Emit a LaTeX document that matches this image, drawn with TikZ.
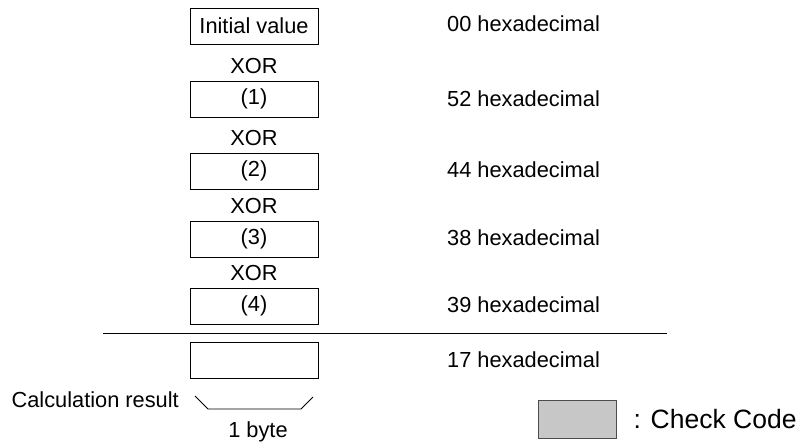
\documentclass[tikz,border=0pt]{standalone}
\usepackage{fontspec}
\setmainfont{Liberation Sans}
\usetikzlibrary{positioning}
\tikzset{
  regbox/.style={draw, line width=0.9pt, minimum width=128pt, minimum height=36pt, inner sep=0pt},
  xorlab/.style={inner sep=0pt, font=\fontsize{21.8}{24}\selectfont},
  hexlab/.style={anchor=west, inner sep=0pt, font=\fontsize{21.8}{24}\selectfont},
}
\begin{document}
\begin{tikzpicture}[x=1pt,y=-1pt,font=\fontsize{21.8}{24}\selectfont]
\useasboundingbox (0,0) rectangle (803,445);
% register values
\node[regbox] (init) at (254,26)  {Initial value};
\node[regbox] (b1)   at (254,99)  {(1)};
\node[regbox] (b2)   at (254,171) {(2)};
\node[regbox] (b3)   at (254,239) {(3)};
\node[regbox] (b4)   at (254,306) {(4)};
\node[regbox] (res)  at (254,360) {};
% operators
\foreach \b in {b1,b2,b3,b4}
  \node[xorlab, above=7pt of \b] (xor-\b) {XOR};
% values
\node[hexlab] (h0) at (447,24)  {00 hexadecimal};
\node[hexlab] (h1) at (447,99)  {52 hexadecimal};
\node[hexlab] (h2) at (447,170) {44 hexadecimal};
\node[hexlab] (h3) at (447,238) {38 hexadecimal};
\node[hexlab] (h4) at (447,305) {39 hexadecimal};
\node[hexlab] (h5) at (447,360) {17 hexadecimal};
% sum line
\coordinate (sl) at (103,333);
\coordinate (sr) at (667,333);
\draw[line width=0.9pt] (sl) -- (sr);
% byte bracket
\coordinate (bra) at (195,396);
\coordinate (brb) at (208,409);
\coordinate (brc) at (301,409);
\coordinate (brd) at (313,397);
\draw[line width=0.8pt] (bra) -- (brb) -- (brc) -- (brd);
\node[anchor=east, inner sep=0pt] (calc) at (179,400) {Calculation result};
\node[inner sep=0pt] (byte) at (258,432) {1 byte};
% legend
\node[draw=black!70, fill=black!22, line width=0.7pt, minimum width=78pt, minimum height=38pt, inner sep=0pt] (key) at (577,419) {};
\node[anchor=west, inner sep=0pt, font=\fontsize{26.5}{30}\selectfont, right=17pt of key] (keylab) {: Check Code};
\end{tikzpicture}
\end{document}
